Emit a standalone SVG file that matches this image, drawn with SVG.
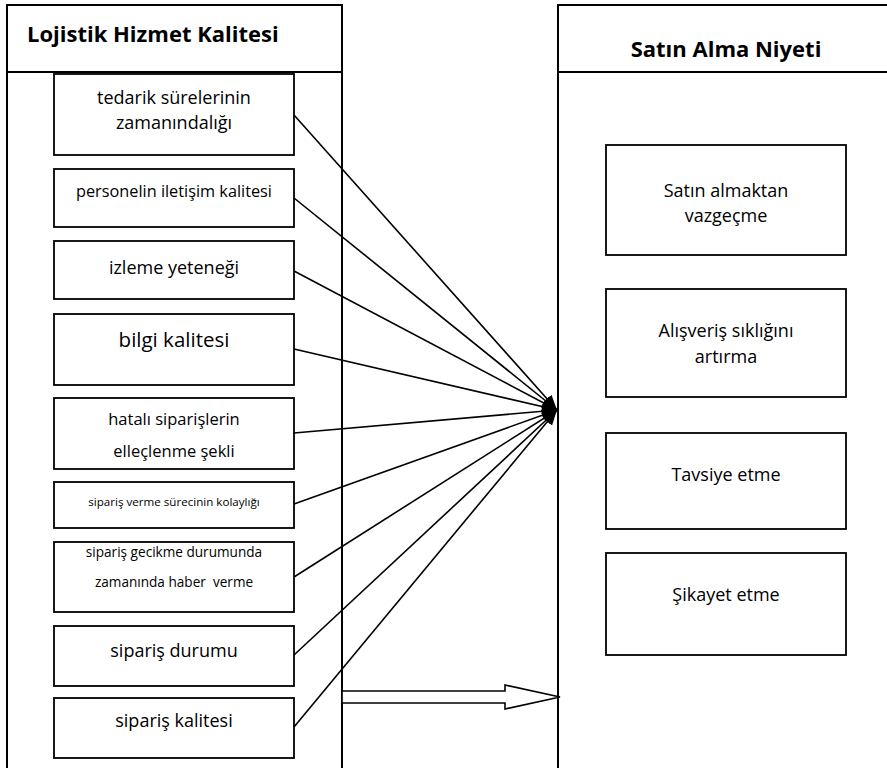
<svg xmlns="http://www.w3.org/2000/svg" width="887" height="768" viewBox="0 0 887 768">
<defs>
<style>
.panel{fill:#fff;stroke:#000;stroke-width:2}
.box{fill:#fff;stroke:#000;stroke-width:1.8}
.hd{font-family:"Open Sans","Noto Sans",sans-serif;font-weight:bold;font-size:22px;fill:#000}
.t{font-family:"Open Sans","Noto Sans",sans-serif;font-size:18px;fill:#000;text-anchor:middle}
.conn{stroke:#000;stroke-width:1.6;fill:none;marker-end:url(#ah)}
</style>
<marker id="ah" markerUnits="userSpaceOnUse" markerWidth="16" markerHeight="13" refX="15" refY="6" orient="auto">
<path d="M0,0 L15,6 L0,12 z" fill="#000"/>
</marker>
</defs>
<rect width="887" height="768" fill="#fff"/>
<g id="panel-left">
<rect class="panel" x="7" y="5" width="335" height="775"/>
<line x1="7" y1="72" x2="342" y2="72" stroke="#000" stroke-width="2"/>
<text class="hd" x="27" y="42">Lojistik Hizmet Kalitesi</text>
</g>
<g id="panel-right">
<rect class="panel" x="558" y="5" width="340" height="775"/>
<line x1="558" y1="72" x2="887" y2="72" stroke="#000" stroke-width="2"/>
<text class="hd" x="726" y="57" text-anchor="middle">Satın Alma Niyeti</text>
</g>
<g id="n1"><rect class="box" x="54" y="74" width="240" height="81"/><text class="t" x="174" y="104">tedarik sürelerinin</text><text class="t" x="174" y="129">zamanındalığı</text></g>
<g id="n2"><rect class="box" x="54" y="169" width="240" height="58"/><text class="t" x="174" y="197" style="font-size:16.3px">personelin iletişim kalitesi</text></g>
<g id="n3"><rect class="box" x="54" y="241" width="240" height="58"/><text class="t" x="174" y="274">izleme yeteneği</text></g>
<g id="n4"><rect class="box" x="54" y="314" width="240" height="71"/><text class="t" x="174" y="347" style="font-size:20.5px">bilgi kalitesi</text></g>
<g id="n5"><rect class="box" x="54" y="398" width="240" height="71"/><text class="t" x="174" y="425" style="font-size:16.5px">hatalı siparişlerin</text><text class="t" x="174" y="457" style="font-size:16.5px">elleçlenme şekli</text></g>
<g id="n6"><rect class="box" x="54" y="482" width="240" height="46"/><text class="t" x="174" y="506" style="font-size:11.6px">sipariş verme sürecinin kolaylığı</text></g>
<g id="n7"><rect class="box" x="54" y="542" width="240" height="70"/><text class="t" x="174" y="557" style="font-size:13.6px">sipariş gecikme durumunda</text><text class="t" x="174" y="587" style="font-size:13.6px;white-space:pre">zamanında haber  verme</text></g>
<g id="n8"><rect class="box" x="54" y="626" width="240" height="60"/><text class="t" x="174" y="657">sipariş durumu</text></g>
<g id="n9"><rect class="box" x="54" y="698" width="240" height="60"/><text class="t" x="174" y="727">sipariş kalitesi</text></g>
<g id="r1"><rect class="box" x="606" y="145" width="240" height="110"/><text class="t" x="726" y="197">Satın almaktan</text><text class="t" x="726" y="222">vazgeçme</text></g>
<g id="r2"><rect class="box" x="606" y="289" width="240" height="108"/><text class="t" x="726" y="337">Alışveriş sıklığını</text><text class="t" x="726" y="363">artırma</text></g>
<g id="r3"><rect class="box" x="606" y="433" width="240" height="96"/><text class="t" x="726" y="481">Tavsiye etme</text></g>
<g id="r4"><rect class="box" x="606" y="553" width="240" height="102"/><text class="t" x="726" y="601">Şikayet etme</text></g>
<g id="connectors">
<line class="conn" x1="294" y1="115" x2="557" y2="410"/>
<line class="conn" x1="294" y1="198" x2="557" y2="410"/>
<line class="conn" x1="294" y1="271" x2="557" y2="410"/>
<line class="conn" x1="294" y1="349" x2="557" y2="410"/>
<line class="conn" x1="294" y1="433" x2="557" y2="410"/>
<line class="conn" x1="294" y1="504" x2="557" y2="410"/>
<line class="conn" x1="294" y1="577" x2="557" y2="410"/>
<line class="conn" x1="294" y1="655" x2="557" y2="410"/>
<line class="conn" x1="294" y1="727" x2="557" y2="410"/>
<polygon points="342,691 505,691 505,685 560,697 505,709 505,703 342,703" fill="#fff" stroke="#000" stroke-width="1.6"/>
</g>
</svg>
